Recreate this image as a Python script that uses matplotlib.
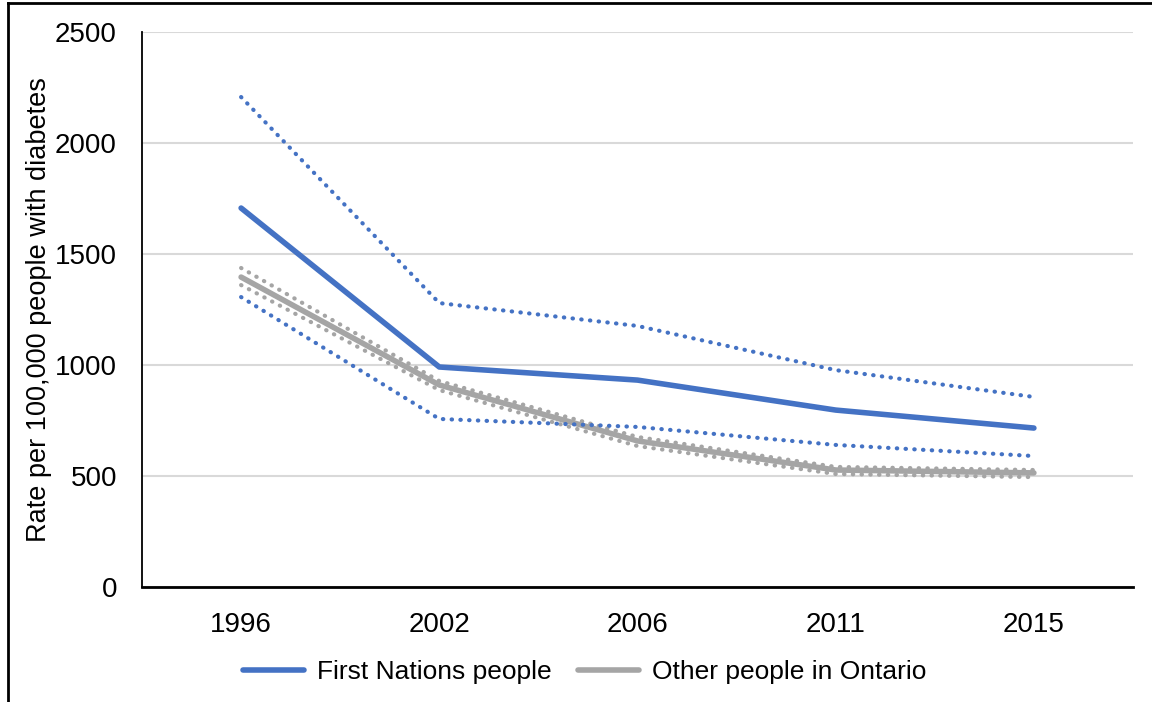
import matplotlib
matplotlib.use("Agg")
import matplotlib.pyplot as plt
from matplotlib.lines import Line2D

plt.rcParams['font.family'] = ['Liberation Sans', 'DejaVu Sans']

years = ["1996", "2002", "2006", "2011", "2015"]

fn_rate = [1707, 991, 932, 797, 716]
fn_upper = [2207, 1279, 1176, 977, 856]
fn_lower = [1306, 757, 721, 640, 590]

other_rate = [1396, 910, 658, 527, 514]
other_upper = [1437, 928, 676, 541, 527]
other_lower = [1360, 887, 635, 509, 495]

yticks = [0, 500, 1000, 1500, 2000, 2500]

BLUE = "#4472C4"
GRAY = "#A5A5A5"

fig = plt.figure(figsize=(11.52, 7.02), dpi=100)
ax = fig.add_axes([142 / 1152, 1 - 587 / 702, (1133 - 142) / 1152, (587 - 32) / 702])

x = list(range(len(years)))

dot = dict(linestyle=(0, (0.1, 2.0)), dash_capstyle="round", linewidth=3.0)
ax.plot(x, other_upper, color=GRAY, **dot, zorder=3)
ax.plot(x, other_lower, color=GRAY, **dot, zorder=3)
ax.plot(x, other_rate, color=GRAY, linewidth=4.0, solid_capstyle="round", zorder=4)
ax.plot(x, fn_upper, color=BLUE, **dot, zorder=5)
ax.plot(x, fn_lower, color=BLUE, **dot, zorder=5)
ax.plot(x, fn_rate, color=BLUE, linewidth=4.0, solid_capstyle="round", zorder=6)

ax.set_xlim(-0.5, len(years) - 0.5)
ax.set_ylim(0, 2500)
ax.set_yticks(yticks)
ax.set_xticks(x)
ax.set_xticklabels(years)
ax.tick_params(axis="both", length=0, labelsize=20)
ax.tick_params(axis="x", pad=18)
ax.tick_params(axis="y", pad=18)
ax.grid(axis="y", color="#D9D9D9", linewidth=1.5)
ax.set_axisbelow(True)
for side in ("top", "right"):
    ax.spines[side].set_visible(False)
ax.spines["left"].set_linewidth(1.3)
ax.spines["bottom"].set_linewidth(2.0)
ax.set_ylabel("Rate per 100,000 people with diabetes", fontsize=19.5)
ax.yaxis.set_label_coords(-(142 - 52) / 991, 0.5)

handles = [
    Line2D([], [], color=BLUE, linewidth=4.0, solid_capstyle="round"),
    Line2D([], [], color=GRAY, linewidth=4.0, solid_capstyle="round"),
]
fig.legend(handles, ["First Nations people", "Other people in Ontario"],
           loc="center", bbox_to_anchor=(585 / 1152, 1 - 672 / 702),
           ncol=2, frameon=False, fontsize=19, handlelength=2.3,
           columnspacing=1.0, handletextpad=0.5)

# frame lines along the left and top edges
fig.add_artist(Line2D([8 / 1152, 8 / 1152], [0, 1 - 3 / 702], color="black",
                      linewidth=2.0, transform=fig.transFigure))
fig.add_artist(Line2D([8 / 1152, 1], [1 - 3 / 702, 1 - 3 / 702], color="black",
                      linewidth=2.0, transform=fig.transFigure))

fig.savefig("out.png", dpi=100)
